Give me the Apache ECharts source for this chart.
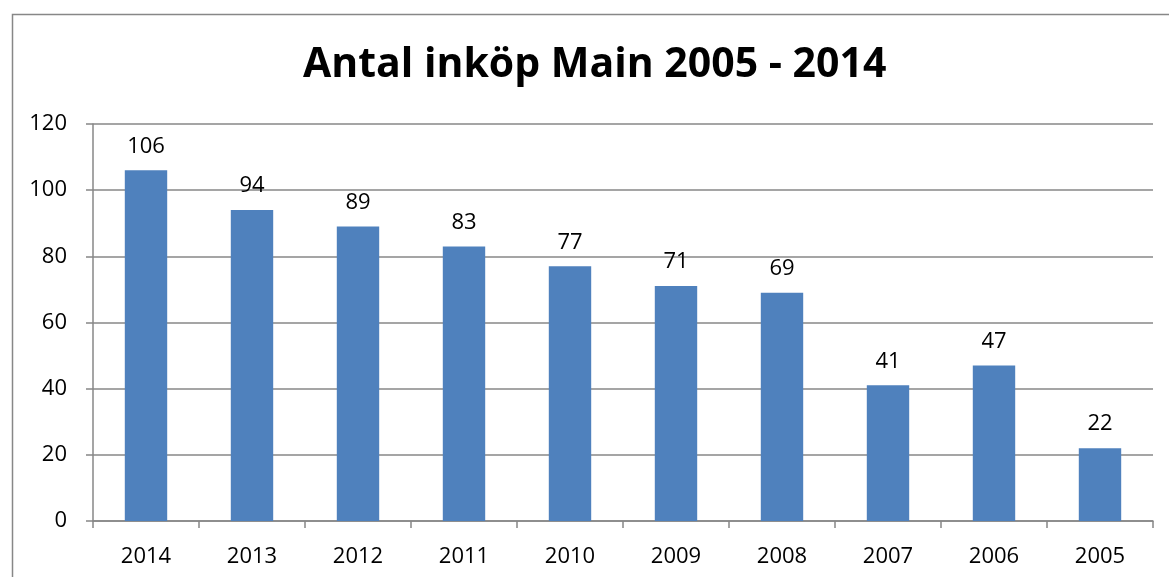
<!DOCTYPE html>
<html>
<head>
<meta charset="utf-8">
<script src="https://cdn.jsdelivr.net/npm/echarts@6/dist/echarts.min.js"></script>
<style>html,body{margin:0;padding:0;background:#fff}#c{width:1169px;height:577px}</style>
</head>
<body>
<div id="c"></div>
<script>
var categories = ['2014','2013','2012','2011','2010','2009','2008','2007','2006','2005'];
var values = [106, 94, 89, 83, 77, 71, 69, 41, 47, 22];
var yTicks = {min: 0, max: 120, interval: 20};
var titleText = 'Antal inköp Main 2005 - 2014';

var chart = echarts.init(document.getElementById('c'), null, {renderer: 'canvas'});
var FONT = '"Open Sans", "Liberation Sans", sans-serif';
chart.setOption({
  animation: false,
  backgroundColor: '#fff',
  graphic: [{
    type: 'rect', left: 10, top: 12,
    shape: {width: 1200, height: 600},
    style: {fill: 'none', stroke: '#878787', lineWidth: 1.5},
    silent: true
  }],
  title: {
    text: titleText, left: 298, top: 40,
    textStyle: {fontFamily: FONT, fontWeight: 'bold', fontSize: 41, color: '#000'}
  },
  grid: {left: 93, right: 16, top: 124, bottom: 56, containLabel: false},
  xAxis: {
    type: 'category', data: categories,
    axisLine: {lineStyle: {color: '#878787', width: 1.5}},
    axisTick: {show: true, length: 7, lineStyle: {color: '#878787', width: 1.5}},
    axisLabel: {fontFamily: FONT, fontSize: 22, color: '#000', margin: 25}
  },
  yAxis: {
    type: 'value', min: yTicks.min, max: yTicks.max, interval: yTicks.interval,
    axisLine: {show: true, lineStyle: {color: '#878787', width: 1.5}},
    axisTick: {show: true, length: 7, lineStyle: {color: '#878787', width: 1.5}},
    splitLine: {lineStyle: {color: '#878787', width: 1.5}},
    axisLabel: {fontFamily: FONT, fontSize: 22, color: '#000', margin: 26}
  },
  series: [{
    type: 'bar', data: values, barWidth: '40%',
    itemStyle: {color: '#4F81BD'},
    label: {show: true, position: 'top', distance: 13, fontFamily: FONT, fontSize: 22, color: '#000'}
  }]
});
</script>
</body>
</html>
